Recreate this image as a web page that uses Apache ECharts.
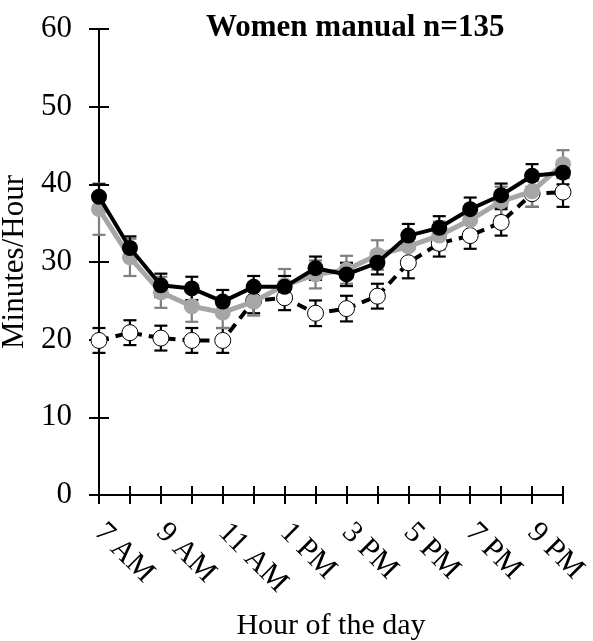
<!DOCTYPE html>
<html>
<head>
<meta charset="utf-8">
<script src="https://cdn.jsdelivr.net/npm/echarts@6/dist/echarts.min.js"></script>
<style>
  html, body { margin: 0; padding: 0; background: #fff; }
  #chart { width: 593px; height: 641px; }
</style>
</head>
<body>
<div id="chart"></div>
<script>
// hours of the day, 7 AM .. 10 PM
var hours = ['7 AM', '8 AM', '9 AM', '10 AM', '11 AM', '12 PM', '1 PM', '2 PM',
  '3 PM', '4 PM', '5 PM', '6 PM', '7 PM', '8 PM', '9 PM', '10 PM']

// black filled markers, solid line
var blackVals = [38.4, 31.8, 27.0, 26.6, 24.9, 26.8, 26.8, 29.2, 28.4, 29.9, 33.4, 34.4, 36.8, 38.6, 41.1, 41.5]
var blackErr = [1.6, 1.5, 1.5, 1.5, 1.5, 1.4, 1.4, 1.5, 1.5, 1.5, 1.5, 1.5, 1.5, 1.5, 1.5, 1.5]

// grey markers, grey line
var greyVals = [36.8, 30.6, 26.1, 24.3, 23.5, 24.9, 27.0, 28.4, 29.0, 30.9, 32.0, 33.4, 35.4, 37.8, 39.1, 42.6]
var greyErr = [3.3, 2.4, 2.0, 2.0, 2.0, 1.8, 2.1, 1.8, 1.8, 1.9, 1.8, 1.8, 1.8, 1.9, 2.0, 1.8]

// open markers, dashed line
var whiteVals = [19.9, 20.9, 20.2, 19.9, 19.9, 25.0, 25.4, 23.4, 24.0, 25.6, 29.9, 32.4, 33.4, 35.1, 38.8, 39.0]
var whiteErr = [1.6, 1.6, 1.6, 1.6, 1.6, 1.6, 1.6, 1.65, 1.65, 1.6, 2.0, 1.7, 1.7, 1.7, 1.7, 1.9]

var font = 'Liberation Serif, Times New Roman, serif'

function errData(vals, errs) {
  return vals.map(function (v, i) { return [i, v - errs[i], v + errs[i]] })
}

function errSeries(vals, errs, color, z) {
  return {
    type: 'custom',
    z: z,
    silent: true,
    data: errData(vals, errs),
    renderItem: function (params, api) {
      var lo = api.coord([api.value(0), api.value(1)])
      var hi = api.coord([api.value(0), api.value(2)])
      var w = 6.5
      var style = { stroke: color, lineWidth: 2.2 }
      return {
        type: 'group',
        children: [
          { type: 'line', shape: { x1: lo[0], y1: lo[1], x2: hi[0], y2: hi[1] }, style: style },
          { type: 'line', shape: { x1: lo[0] - w, y1: lo[1], x2: lo[0] + w, y2: lo[1] }, style: style },
          { type: 'line', shape: { x1: hi[0] - w, y1: hi[1], x2: hi[0] + w, y2: hi[1] }, style: style }
        ]
      }
    }
  }
}

var chart = echarts.init(document.getElementById('chart'))

var tickStyle = { color: '#000', width: 2 }

var option = {
  animation: false,
  backgroundColor: '#fff',
  title: {
    text: 'Women manual n=135',
    left: 201,
    top: 7,
    textStyle: { fontFamily: font, fontSize: 31, fontWeight: 'bold', color: '#000' }
  },
  grid: { left: 99, right: 30, top: 29, bottom: 146, outerBoundsMode: 'none', containLabel: false },
  xAxis: [
    {
      type: 'category',
      data: hours,
      boundaryGap: false,
      axisLine: { lineStyle: { color: '#000', width: 2 } },
      axisTick: { interval: 0, length: 9, lineStyle: tickStyle },
      axisLabel: {
        interval: 1,
        rotate: -45,
        margin: 33,
        fontFamily: font,
        fontSize: 30,
        color: '#000'
      },
      name: 'Hour of the day',
      nameLocation: 'middle',
      nameGap: 116,
      nameTextStyle: { fontFamily: font, fontSize: 30, color: '#000' }
    },
    {
      // second copy of the axis, only to draw the upper half of each tick
      type: 'category',
      data: hours,
      boundaryGap: false,
      position: 'bottom',
      axisLine: { show: false },
      axisTick: { show: true, inside: true, interval: 0, length: 9, lineStyle: tickStyle },
      axisLabel: { show: false }
    }
  ],
  yAxis: [
    {
      type: 'value',
      min: 0,
      max: 60,
      interval: 10,
      splitLine: { show: false },
      axisLine: { show: true, lineStyle: { color: '#000', width: 2 } },
      axisTick: { show: true, length: 10, lineStyle: tickStyle },
      axisLabel: { margin: 27, fontFamily: font, fontSize: 31, color: '#000' },
      name: 'Minutes/Hour',
      nameLocation: 'middle',
      nameGap: 64,
      nameTextStyle: { fontFamily: font, fontSize: 31, color: '#000' }
    },
    {
      // second copy of the axis, only to draw the right half of each tick
      type: 'value',
      min: 0,
      max: 60,
      interval: 10,
      position: 'left',
      splitLine: { show: false },
      axisLine: { show: false },
      axisTick: { show: true, inside: true, length: 10, lineStyle: tickStyle },
      axisLabel: { show: false }
    }
  ],
  series: [
    errSeries(whiteVals, whiteErr, '#000', 1),
    errSeries(greyVals, greyErr, '#7f7f7f', 1),
    errSeries(blackVals, blackErr, '#000', 1),
    {
      type: 'line',
      data: whiteVals,
      z: 2,
      symbol: 'circle',
      symbolSize: 16,
      itemStyle: { color: '#fff', borderColor: '#000', borderWidth: 1 },
      lineStyle: { color: '#000', width: 4, type: [10, 7] }
    },
    {
      type: 'line',
      data: greyVals,
      z: 3,
      symbol: 'circle',
      symbolSize: 16,
      itemStyle: { color: '#a6a6a6', borderColor: '#a6a6a6', borderWidth: 0 },
      lineStyle: { color: '#a6a6a6', width: 5 }
    },
    {
      type: 'line',
      data: blackVals,
      z: 4,
      symbol: 'circle',
      symbolSize: 16,
      itemStyle: { color: '#000', borderColor: '#000', borderWidth: 0 },
      lineStyle: { color: '#000', width: 4 }
    }
  ]
}

chart.setOption(option)
</script>
</body>
</html>
